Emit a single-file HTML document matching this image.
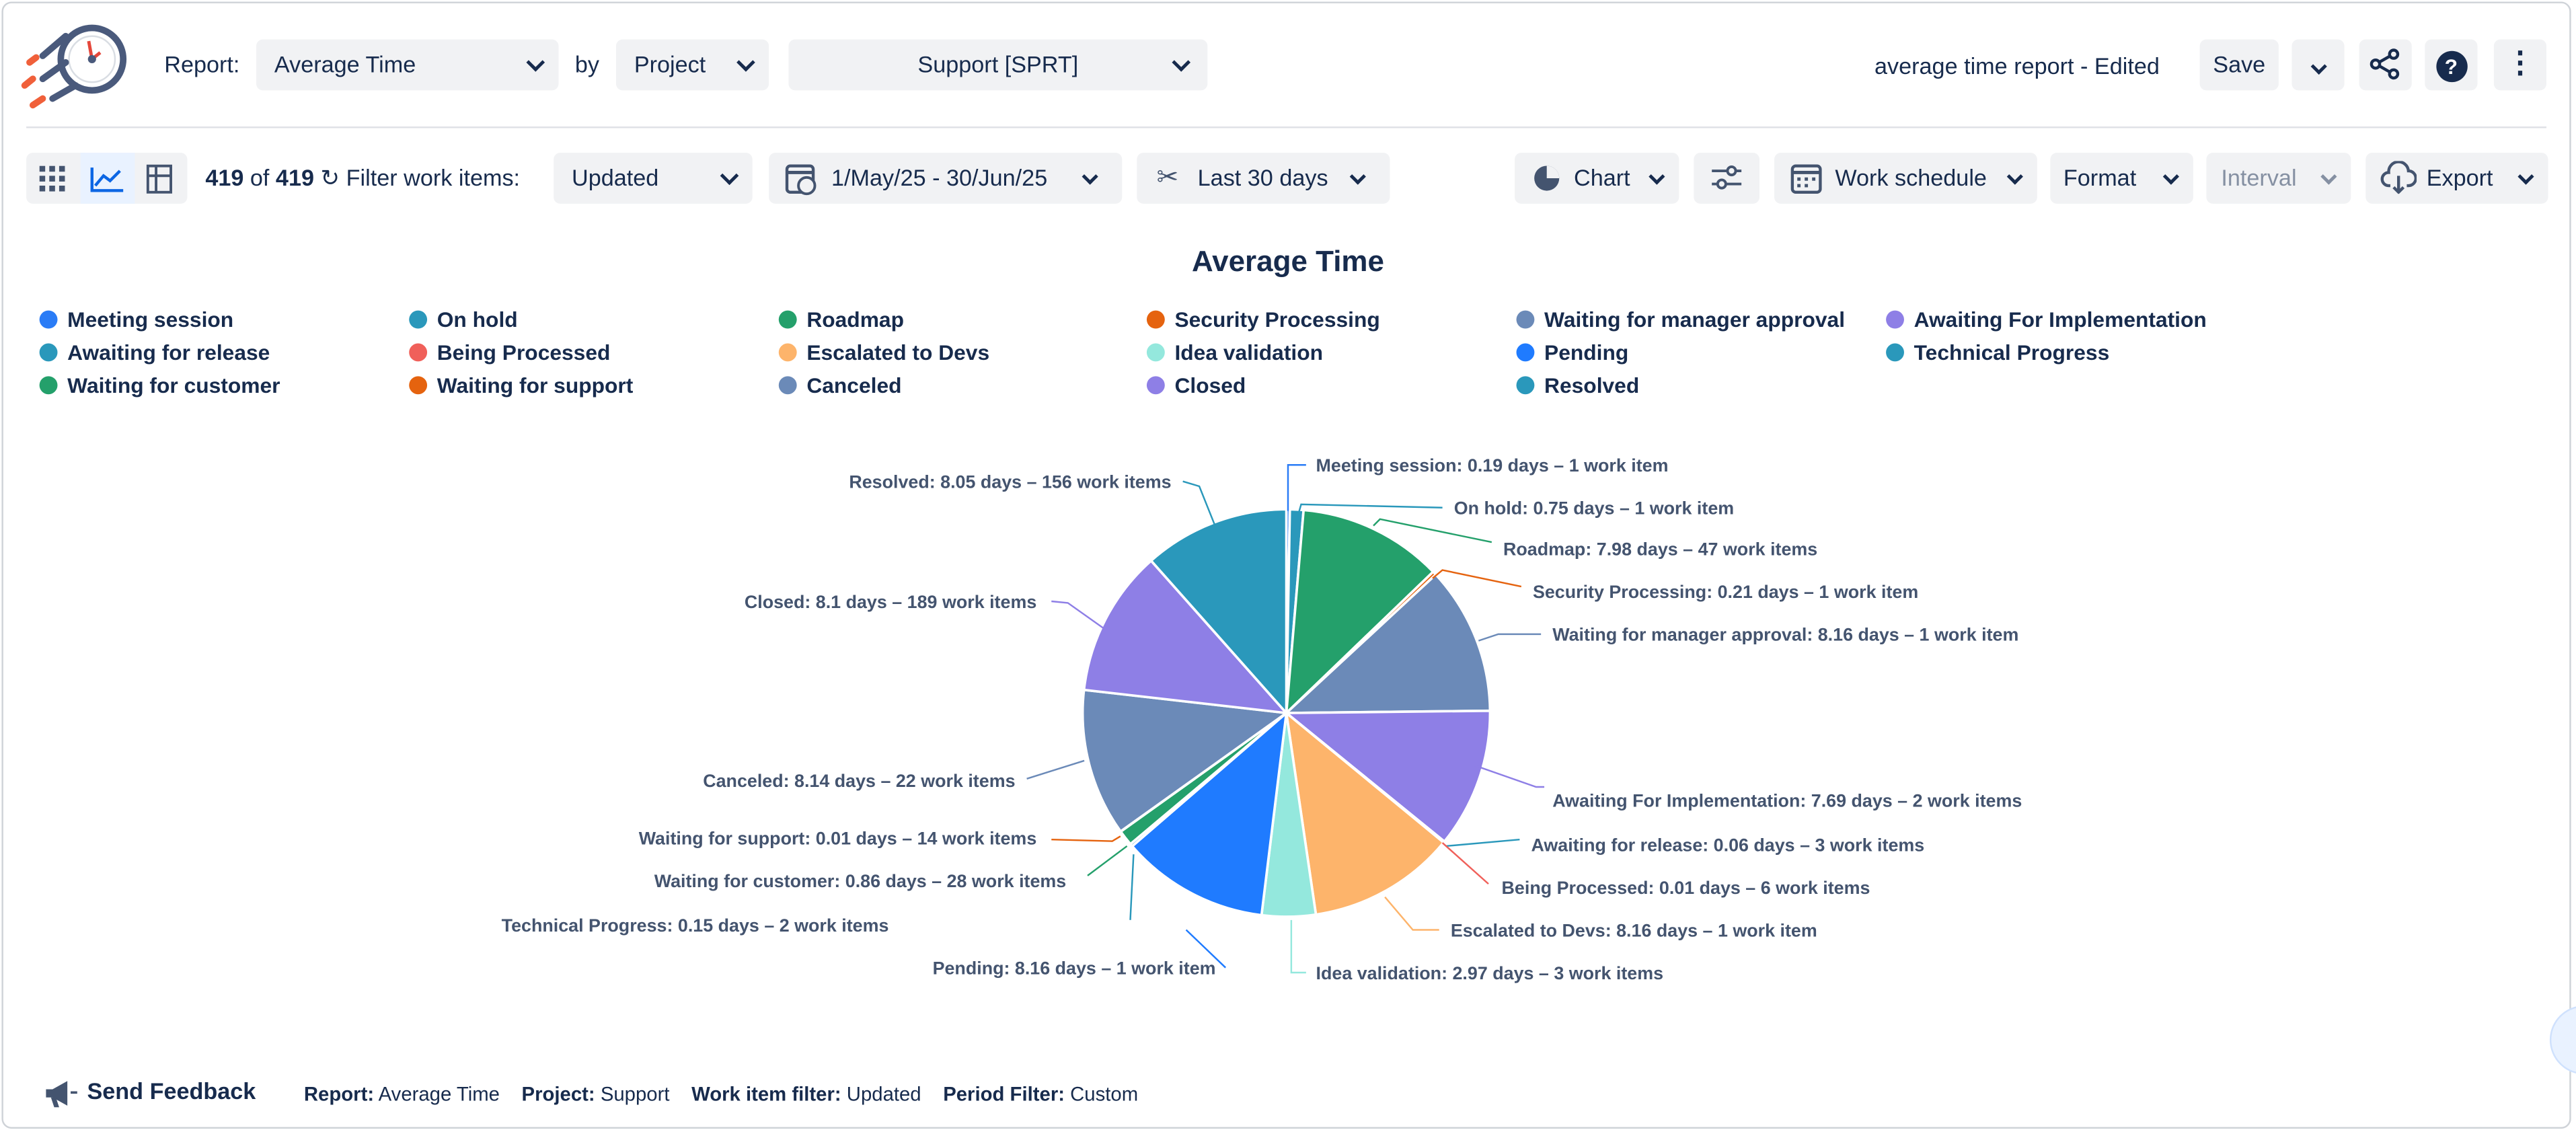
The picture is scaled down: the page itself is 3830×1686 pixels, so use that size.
<!DOCTYPE html>
<html><head><meta charset="utf-8">
<style>
html,body{margin:0;padding:0;background:#fff;}
body{width:3830px;height:1686px;overflow:hidden;position:relative;font-family:"Liberation Sans",Arial,sans-serif;}
#w{position:absolute;left:0;top:0;width:1568px;height:690px;transform:scale(2.44260);transform-origin:0 0;color:#172b4d;}
.frame{position:absolute;left:1px;top:1px;width:1564px;height:686px;border:1px solid #cfd3d8;border-radius:6px;box-sizing:border-box;}
.t{position:absolute;white-space:nowrap;}
.sel{position:absolute;background:#f1f2f4;border-radius:4px;height:31px;font-size:14px;line-height:31px;box-sizing:border-box;padding-left:11px;}
.sel .c{position:absolute;right:10px;top:0;font-size:11px;}
.chev{display:inline-block;width:6px;height:6px;border-right:2px solid #172b4d;border-bottom:2px solid #172b4d;transform:rotate(45deg);}
.btn{position:absolute;background:#f1f2f4;border-radius:4px;height:31px;font-size:14px;line-height:31px;text-align:center;}
.leg{position:absolute;font-size:13px;font-weight:bold;white-space:nowrap;}
.leg i{display:inline-block;width:11px;height:11px;border-radius:50%;margin-right:6px;vertical-align:-1px;}
.ft{position:absolute;top:658px;font-size:12px;white-space:nowrap;}
</style></head><body>
<div id="w">
<div class="frame"></div>
<!-- logo -->
<svg class="t" style="left:12px;top:12px" width="70" height="56" viewBox="0 0 70 56">
<circle cx="44" cy="24" r="19" fill="none" stroke="#4a5a7c" stroke-width="4"/>
<circle cx="44" cy="24" r="14" fill="#fff" stroke="#d9dde3" stroke-width="1"/>
<line x1="44" y1="24" x2="42" y2="13" stroke="#e5473b" stroke-width="2"/>
<line x1="44" y1="24" x2="49" y2="20" stroke="#e5473b" stroke-width="2"/>
<circle cx="44" cy="24" r="2.5" fill="#4a5a7c"/>
<line x1="14" y1="22" x2="28" y2="10" stroke="#4a5a7c" stroke-width="4" stroke-linecap="round"/>
<line x1="14" y1="36" x2="28" y2="26" stroke="#4a5a7c" stroke-width="4" stroke-linecap="round"/>
<line x1="20" y1="48" x2="34" y2="40" stroke="#4a5a7c" stroke-width="4" stroke-linecap="round"/>
<line x1="6" y1="26" x2="10" y2="23" stroke="#f0603a" stroke-width="4" stroke-linecap="round"/>
<line x1="3" y1="40" x2="8" y2="36" stroke="#f0603a" stroke-width="4" stroke-linecap="round"/>
<line x1="8" y1="52" x2="14" y2="48" stroke="#f0603a" stroke-width="4" stroke-linecap="round"/>
</svg>
<div class="t" style="left:100px;top:31px;font-size:14px">Report:</div>
<div class="sel" style="left:156px;top:24px;width:184px">Average Time<span class="c"><span class="chev"></span></span></div>
<div class="t" style="left:350px;top:31px;font-size:14px">by</div>
<div class="sel" style="left:375px;top:24px;width:93px">Project<span class="c"><span class="chev"></span></span></div>
<div class="sel" style="left:480px;top:24px;width:255px;padding-left:0;text-align:center">Support [SPRT]<span class="c" style="right:12px"><span class="chev"></span></span></div>
<div class="t" style="left:1141px;top:32px;font-size:14px">average time report - Edited</div>
<div class="btn" style="left:1339px;top:24px;width:48px;font-weight:normal">Save</div>
<div class="btn" style="left:1395px;top:24px;width:32px"><span class="chev" style="width:5px;height:5px"></span></div>
<div class="btn" style="left:1436px;top:24px;width:32px"><svg width="20" height="20" viewBox="0 0 20 20" style="vertical-align:-5px"><circle cx="15" cy="4" r="2.5" fill="none" stroke="#172b4d" stroke-width="1.8"/><circle cx="4" cy="10" r="2.5" fill="none" stroke="#172b4d" stroke-width="1.8"/><circle cx="15" cy="16" r="2.5" fill="none" stroke="#172b4d" stroke-width="1.8"/><line x1="6" y1="9" x2="13" y2="5" stroke="#172b4d" stroke-width="1.8"/><line x1="6" y1="11" x2="13" y2="15" stroke="#172b4d" stroke-width="1.8"/></svg></div>
<div class="btn" style="left:1476px;top:24px;width:32px"><span style="display:inline-block;width:19px;height:19px;border-radius:50%;background:#172b4d;color:#fff;font-weight:bold;font-size:13px;line-height:19px;vertical-align:-1px">?</span></div>
<div class="btn" style="left:1518px;top:24px;width:32px;font-weight:bold;font-size:18px;line-height:28px">&#8942;</div>
<div class="t" style="left:16px;top:77px;width:1534px;height:1px;background:#dfe1e6"></div>
<!-- toolbar -->
<div class="t" style="left:16px;top:93px;width:98px;height:31px;background:#f1f2f4;border-radius:4px"></div>
<div class="t" style="left:49px;top:93px;width:33px;height:31px;background:#e9f2ff"></div>
<svg class="t" style="left:24px;top:100px" width="84" height="18" viewBox="0 0 84 18">
<g fill="#44546f"><rect x="0" y="1" width="3.5" height="3.5"/><rect x="6" y="1" width="3.5" height="3.5"/><rect x="12" y="1" width="3.5" height="3.5"/><rect x="0" y="7" width="3.5" height="3.5"/><rect x="6" y="7" width="3.5" height="3.5"/><rect x="12" y="7" width="3.5" height="3.5"/><rect x="0" y="13" width="3.5" height="3.5"/><rect x="6" y="13" width="3.5" height="3.5"/><rect x="12" y="13" width="3.5" height="3.5"/></g>
<path d="M32 2 V16 H51 M34 13 L39 7 L43 10 L49 4" fill="none" stroke="#0c66e4" stroke-width="1.8"/>
<rect x="66" y="1" width="14" height="16" fill="none" stroke="#44546f" stroke-width="1.6"/><line x1="66" y1="7" x2="80" y2="7" stroke="#44546f" stroke-width="1.6"/><line x1="71" y1="1" x2="71" y2="17" stroke="#44546f" stroke-width="1.6"/>
</svg>
<div class="t" style="left:125px;top:100px;font-size:14px"><b>419</b> of <b>419</b> &#x21bb; Filter work items:</div>
<div class="sel" style="left:337px;top:93px;width:121px">Updated<span class="c"><span class="chev"></span></span></div>
<div class="sel" style="left:468px;top:93px;width:215px;padding-left:38px">1/May/25 - 30/Jun/25<span class="c" style="right:16px"><span class="chev" style="width:5px;height:5px"></span></span></div>
<svg class="t" style="left:478px;top:98px" width="20" height="22" viewBox="0 0 20 22"><rect x="1" y="3" width="16" height="16" rx="2" fill="none" stroke="#44546f" stroke-width="1.8"/><line x1="1" y1="7" x2="17" y2="7" stroke="#44546f" stroke-width="2"/><circle cx="13" cy="15" r="5" fill="#f1f2f4" stroke="#44546f" stroke-width="1.6"/></svg>
<div class="sel" style="left:692px;top:93px;width:154px;padding-left:37px">Last 30 days<span class="c" style="right:16px"><span class="chev" style="width:5px;height:5px"></span></span></div>
<div class="t" style="left:704px;top:98px;font-size:16px;color:#44546f">&#x2702;</div>
<div class="sel" style="left:922px;top:93px;width:100px;padding-left:36px">Chart<span class="c"><span class="chev" style="width:5px;height:5px"></span></span></div>
<svg class="t" style="left:932px;top:99px" width="19" height="19" viewBox="0 0 20 20"><circle cx="10" cy="10" r="8" fill="#44546f"/><path d="M10 10 V2 A8 8 0 0 1 18 10 Z" fill="#f1f2f4"/></svg>
<div class="btn" style="left:1031px;top:93px;width:40px"><svg width="20" height="16" viewBox="0 0 20 16" style="vertical-align:-3px"><line x1="1" y1="4" x2="19" y2="4" stroke="#44546f" stroke-width="1.6"/><line x1="1" y1="12" x2="19" y2="12" stroke="#44546f" stroke-width="1.6"/><circle cx="13" cy="4" r="2.5" fill="#f1f2f4" stroke="#44546f" stroke-width="1.6"/><circle cx="7" cy="12" r="2.5" fill="#f1f2f4" stroke="#44546f" stroke-width="1.6"/></svg></div>
<div class="sel" style="left:1080px;top:93px;width:160px;padding-left:37px">Work schedule<span class="c"><span class="chev" style="width:5px;height:5px"></span></span></div>
<svg class="t" style="left:1090px;top:99px" width="20" height="19" viewBox="0 0 20 19"><rect x="1" y="2" width="17" height="16" rx="2" fill="none" stroke="#44546f" stroke-width="1.8"/><line x1="1" y1="6" x2="18" y2="6" stroke="#44546f" stroke-width="2"/><g fill="#44546f"><rect x="4" y="9" width="2" height="2"/><rect x="8.5" y="9" width="2" height="2"/><rect x="13" y="9" width="2" height="2"/><rect x="4" y="13" width="2" height="2"/><rect x="8.5" y="13" width="2" height="2"/></g></svg>
<div class="sel" style="left:1248px;top:93px;width:87px;padding-left:8px">Format<span class="c"><span class="chev" style="width:5px;height:5px"></span></span></div>
<div class="sel" style="left:1343px;top:93px;width:88px;padding-left:9px;color:#8590a2">Interval<span class="c"><span class="chev" style="width:5px;height:5px;border-color:#8590a2"></span></span></div>
<div class="sel" style="left:1440px;top:93px;width:111px;padding-left:37px">Export<span class="c"><span class="chev" style="width:5px;height:5px"></span></span></div>
<svg class="t" style="left:1449px;top:98px" width="22" height="20" viewBox="0 0 22 20"><path d="M6 15 H5 A4 4 0 0 1 5 7 A6 6 0 0 1 17 6 A4.5 4.5 0 0 1 17 15 H16" fill="none" stroke="#44546f" stroke-width="1.8"/><path d="M11 9 V19 M8 16 L11 19 L14 16" fill="none" stroke="#44546f" stroke-width="1.8"/></svg>
<!-- title -->
<div class="t" style="left:0;width:1568px;text-align:center;top:149px;font-size:18px;font-weight:bold">Average Time</div>
<!-- legend -->
<div class="leg" style="left:24px;top:187px"><i style="background:#2a7cf6"></i>Meeting session</div>
<div class="leg" style="left:249px;top:187px"><i style="background:#2a98bb"></i>On hold</div>
<div class="leg" style="left:474px;top:187px"><i style="background:#24a06b"></i>Roadmap</div>
<div class="leg" style="left:698px;top:187px"><i style="background:#e5630f"></i>Security Processing</div>
<div class="leg" style="left:923px;top:187px"><i style="background:#6b8ab8"></i>Waiting for manager approval</div>
<div class="leg" style="left:1148px;top:187px"><i style="background:#8e7fe6"></i>Awaiting For Implementation</div>
<div class="leg" style="left:24px;top:207px"><i style="background:#2a98bb"></i>Awaiting for release</div>
<div class="leg" style="left:249px;top:207px"><i style="background:#f0605a"></i>Being Processed</div>
<div class="leg" style="left:474px;top:207px"><i style="background:#fdb46b"></i>Escalated to Devs</div>
<div class="leg" style="left:698px;top:207px"><i style="background:#94e8dd"></i>Idea validation</div>
<div class="leg" style="left:923px;top:207px"><i style="background:#1f7bff"></i>Pending</div>
<div class="leg" style="left:1148px;top:207px"><i style="background:#2a98bb"></i>Technical Progress</div>
<div class="leg" style="left:24px;top:227px"><i style="background:#24a06b"></i>Waiting for customer</div>
<div class="leg" style="left:249px;top:227px"><i style="background:#e5630f"></i>Waiting for support</div>
<div class="leg" style="left:474px;top:227px"><i style="background:#6b8ab8"></i>Canceled</div>
<div class="leg" style="left:698px;top:227px"><i style="background:#8e7fe6"></i>Closed</div>
<div class="leg" style="left:923px;top:227px"><i style="background:#2a98bb"></i>Resolved</div>
<!-- pie -->
<svg id="pie" class="t" style="left:0;top:0" width="1568" height="690" viewBox="0 0 1568 690" font-family="Liberation Sans, Arial, sans-serif" font-size="11" font-weight="bold" fill="#44546f"></svg>
<!-- footer -->
<svg class="t" style="left:26px;top:656px" width="22" height="20" viewBox="0 0 22 20"><path d="M2 7 H6 L15 2 V17 L6 12 H2 Z" fill="#44546f"/><path d="M5 12 L7 18 H10 L8 12" fill="#44546f"/><line x1="17" y1="9" x2="21" y2="9" stroke="#44546f" stroke-width="1.5"/></svg>
<div class="ft" style="left:53px;top:656px;font-size:14px;font-weight:bold">Send Feedback</div>
<div class="ft" style="left:185px;top:659px"><b>Report:</b> Average Time &nbsp;&nbsp;&nbsp;<b>Project:</b> Support &nbsp;&nbsp;&nbsp;<b>Work item filter:</b> Updated &nbsp;&nbsp;&nbsp;<b>Period Filter:</b> Custom</div>
<div class="t" style="left:1552px;top:612px;width:40px;height:40px;border-radius:50%;background:#e9f2ff;border:1px solid #cfe1fd"></div>
</div>
<script>
var d=[["Meeting session",0.19,"#2a7cf6","1 work item"],["On hold",0.75,"#2a98bb","1 work item"],["Roadmap",7.98,"#24a06b","47 work items"],["Security Processing",0.21,"#e5630f","1 work item"],["Waiting for manager approval",8.16,"#6b8ab8","1 work item"],["Awaiting For Implementation",7.69,"#8e7fe6","2 work items"],["Awaiting for release",0.06,"#2a98bb","3 work items"],["Being Processed",0.01,"#f0605a","6 work items"],["Escalated to Devs",8.16,"#fdb46b","1 work item"],["Idea validation",2.97,"#94e8dd","3 work items"],["Pending",8.16,"#1f7bff","1 work item"],["Technical Progress",0.15,"#2a98bb","2 work items"],["Waiting for customer",0.86,"#24a06b","28 work items"],["Waiting for support",0.01,"#e5630f","14 work items"],["Canceled",8.14,"#6b8ab8","22 work items"],["Closed",8.1,"#8e7fe6","189 work items"],["Resolved",8.05,"#2a98bb","156 work items"]];
var L=[[801,287,"784,311 784,283 795,283","s"],[885,313,"790,314 792,307 878,309","s"],[915,338,"836,320 840,316 908,330","s"],[933,364,"872,352 878,347 926,357","s"],[945,390,"900,390 912,386 938,386","s"],[945,491,"895,465 935,479 940,479","s"],[932,518,"880,515 925,511","s"],[914,544,"878,513 906,538","s"],[883,570,"843,546 860,566 876,566","s"],[801,596,"786,560 786,592 795,592","s"],[740,593,"722,566 746,589","e"],[541,567,"690,520 688,560","e"],[649,540,"686,515 662,533","e"],[631,514,"682,509 677,512 640,511","e"],[618,479,"660,463 625,474","e"],[631,370,"674,384 650,367 640,366","e"],[713,297,"740,321 730,296 720,293","e"]];
var s=document.getElementById('pie'),cx=783,cy=434,r=124,tot=0,h='';
d.forEach(function(x){tot+=x[1];});
var a=-Math.PI/2;
d.forEach(function(x,i){var b=a+x[1]/tot*2*Math.PI;
var x1=cx+r*Math.cos(a),y1=cy+r*Math.sin(a),x2=cx+r*Math.cos(b),y2=cy+r*Math.sin(b);
h+='<path d="M'+cx+' '+cy+' L'+x1.toFixed(2)+' '+y1.toFixed(2)+' A'+r+' '+r+' 0 '+((b-a)>Math.PI?1:0)+' 1 '+x2.toFixed(2)+' '+y2.toFixed(2)+' Z" fill="'+x[2]+'" stroke="#fff" stroke-width="1.5" stroke-linejoin="round"/>';
a=b;});
d.forEach(function(x,i){var l=L[i];
h+='<polyline points="'+l[2]+'" fill="none" stroke="'+x[2]+'" stroke-width="1"/>';
h+='<text x="'+l[0]+'" y="'+l[1]+'"'+(l[3]=='e'?' text-anchor="end"':'')+'>'+x[0]+': '+x[1]+' days \u2013 '+x[3]+'</text>';});
s.innerHTML=h;
</script>
</body></html>
